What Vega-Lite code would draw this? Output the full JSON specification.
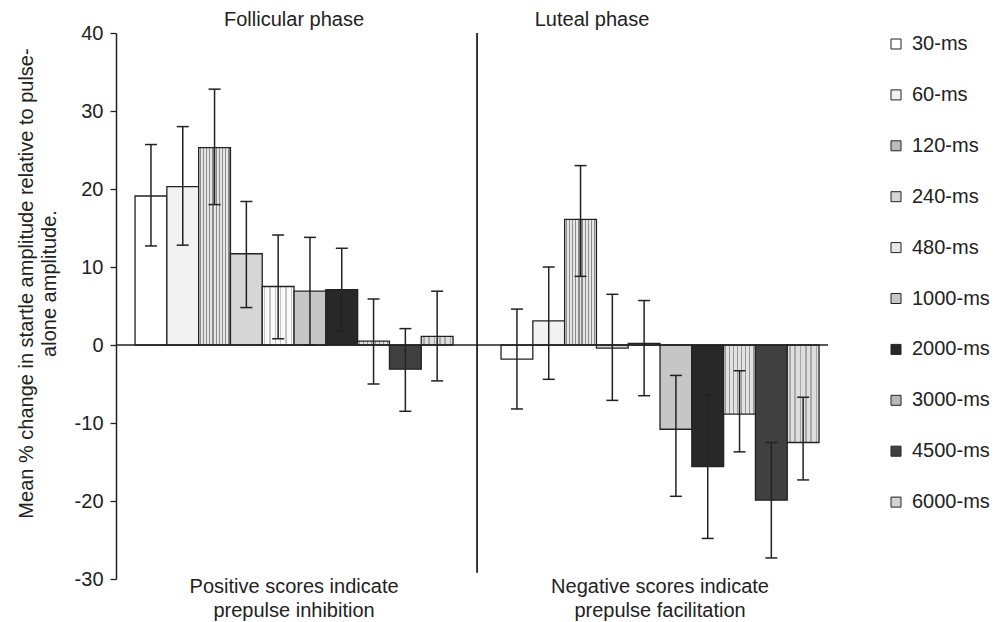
{
  "$schema": "https://vega.github.io/schema/vega-lite/v6.json",
  "autosize": "none",
  "padding": {"left": 116, "top": 33, "right": 167, "bottom": 43},
  "width": 712,
  "height": 546,
  "background": "white",
  "config": {
    "view": {"stroke": null},
    "font": "Liberation Sans",
    "text": {"font": "Liberation Sans", "fontSize": 20, "color": "#222"}
  },
  "data": {
    "values": [
      {"phase": "Follicular", "dur": "30-ms", "mean": 19.1, "lo": 12.7, "hi": 25.7},
      {"phase": "Follicular", "dur": "60-ms", "mean": 20.3, "lo": 12.8, "hi": 28.0},
      {"phase": "Follicular", "dur": "120-ms", "mean": 25.3, "lo": 18.0, "hi": 32.8},
      {"phase": "Follicular", "dur": "240-ms", "mean": 11.7, "lo": 4.8, "hi": 18.4},
      {"phase": "Follicular", "dur": "480-ms", "mean": 7.5, "lo": 0.8, "hi": 14.1},
      {"phase": "Follicular", "dur": "1000-ms", "mean": 6.9, "lo": 0.0, "hi": 13.8},
      {"phase": "Follicular", "dur": "2000-ms", "mean": 7.1, "lo": 1.8, "hi": 12.4},
      {"phase": "Follicular", "dur": "3000-ms", "mean": 0.5, "lo": -5.0, "hi": 5.9},
      {"phase": "Follicular", "dur": "4500-ms", "mean": -3.1, "lo": -8.5, "hi": 2.1},
      {"phase": "Follicular", "dur": "6000-ms", "mean": 1.1, "lo": -4.6, "hi": 6.9},
      {"phase": "Luteal", "dur": "30-ms", "mean": -1.8, "lo": -8.2, "hi": 4.6},
      {"phase": "Luteal", "dur": "60-ms", "mean": 3.1, "lo": -4.4, "hi": 10.0},
      {"phase": "Luteal", "dur": "120-ms", "mean": 16.1, "lo": 8.8, "hi": 23.0},
      {"phase": "Luteal", "dur": "240-ms", "mean": -0.4, "lo": -7.1, "hi": 6.5},
      {"phase": "Luteal", "dur": "480-ms", "mean": 0.2, "lo": -6.5, "hi": 5.7},
      {"phase": "Luteal", "dur": "1000-ms", "mean": -10.8, "lo": -19.4, "hi": -3.9},
      {"phase": "Luteal", "dur": "2000-ms", "mean": -15.6, "lo": -24.8, "hi": -6.4},
      {"phase": "Luteal", "dur": "3000-ms", "mean": -8.85, "lo": -13.7, "hi": -3.3},
      {"phase": "Luteal", "dur": "4500-ms", "mean": -19.9, "lo": -27.3, "hi": -12.5},
      {"phase": "Luteal", "dur": "6000-ms", "mean": -12.5, "lo": -17.3, "hi": -6.7}
    ]
  },
  "layer": [
    {
      "mark": {"type": "bar", "stroke": "#222", "strokeWidth": 1.3, "opacity": 1},
      "encoding": {
        "x": {"field": "phase", "type": "nominal", "axis": null,
              "scale": {"type": "band", "domain": ["Follicular", "Luteal"], "paddingInner": 0.1311, "paddingOuter": 0.0383, "align": 0.68}},
        "xOffset": {"field": "dur", "type": "nominal",
                    "scale": {"domain": ["30-ms", "60-ms", "120-ms", "240-ms", "480-ms", "1000-ms", "2000-ms", "3000-ms", "4500-ms", "6000-ms"], "paddingInner": 0, "paddingOuter": 0}},
        "y": {"field": "mean", "type": "quantitative",
              "scale": {"domain": [-30, 40], "nice": false, "zero": false},
              "axis": {
                "values": [-30, -20, -10, 0, 10, 20, 30, 40],
                "labelExpr": "toString(datum.value)",
                "grid": false,
                "domainColor": "#222", "domainWidth": 1.5,
                "tickColor": "#222", "tickWidth": 1.3, "tickSize": 6,
                "labelFont": "Liberation Sans", "labelFontSize": 20, "labelColor": "#222", "labelPadding": 7,
                "title": ["Mean % change in startle amplitude relative to pulse-", "alone amplitude."],
                "titleFont": "Liberation Sans", "titleFontSize": 20, "titleFontWeight": "normal", "titleColor": "#222",
                "titleX": -100, "titleY": 250, "titleAngle": -90, "titleAlign": "center", "titleBaseline": "top", "titleLineHeight": 23
              }},
        "fill": {
          "field": "dur", "type": "nominal",
          "scale": {
            "domain": ["30-ms", "60-ms", "120-ms", "240-ms", "480-ms", "1000-ms", "2000-ms", "3000-ms", "4500-ms", "6000-ms"],
            "range": ["#ffffff", "#f2f2f2", "#bbbbbb", "#d6d6d6", "#e8e8e8", "#c6c6c6", "#282828", "#b8b8b8", "#404040", "#d2d2d2"]
          },
          "legend": {
            "orient": "none", "legendX": 770, "legendY": 1, "title": null,
            "labelFont": "Liberation Sans", "labelFontSize": 20, "labelColor": "#222", "labelOffset": 6,
            "symbolType": "square", "symbolSize": 100, "symbolStrokeColor": "#222", "symbolStrokeWidth": 1,
            "rowPadding": 30.9
          },
          "condition": [
            {"test": "datum.dur === '120-ms'", "value": {"gradient": "linear", "x1": 0, "y1": 0, "x2": 1, "y2": 0, "stops": [
              {"offset": 0, "color": "#e6e6e6"}, {"offset": 0.03, "color": "#e6e6e6"}, {"offset": 0.03, "color": "#8c8c8c"}, {"offset": 0.07, "color": "#8c8c8c"},
              {"offset": 0.07, "color": "#e6e6e6"}, {"offset": 0.13, "color": "#e6e6e6"}, {"offset": 0.13, "color": "#8c8c8c"}, {"offset": 0.17, "color": "#8c8c8c"},
              {"offset": 0.17, "color": "#e6e6e6"}, {"offset": 0.23, "color": "#e6e6e6"}, {"offset": 0.23, "color": "#8c8c8c"}, {"offset": 0.27, "color": "#8c8c8c"},
              {"offset": 0.27, "color": "#e6e6e6"}, {"offset": 0.33, "color": "#e6e6e6"}, {"offset": 0.33, "color": "#8c8c8c"}, {"offset": 0.37, "color": "#8c8c8c"},
              {"offset": 0.37, "color": "#e6e6e6"}, {"offset": 0.43, "color": "#e6e6e6"}, {"offset": 0.43, "color": "#8c8c8c"}, {"offset": 0.47, "color": "#8c8c8c"},
              {"offset": 0.47, "color": "#e6e6e6"}, {"offset": 0.53, "color": "#e6e6e6"}, {"offset": 0.53, "color": "#8c8c8c"}, {"offset": 0.57, "color": "#8c8c8c"},
              {"offset": 0.57, "color": "#e6e6e6"}, {"offset": 0.63, "color": "#e6e6e6"}, {"offset": 0.63, "color": "#8c8c8c"}, {"offset": 0.67, "color": "#8c8c8c"},
              {"offset": 0.67, "color": "#e6e6e6"}, {"offset": 0.73, "color": "#e6e6e6"}, {"offset": 0.73, "color": "#8c8c8c"}, {"offset": 0.77, "color": "#8c8c8c"},
              {"offset": 0.77, "color": "#e6e6e6"}, {"offset": 0.83, "color": "#e6e6e6"}, {"offset": 0.83, "color": "#8c8c8c"}, {"offset": 0.87, "color": "#8c8c8c"},
              {"offset": 0.87, "color": "#e6e6e6"}, {"offset": 0.93, "color": "#e6e6e6"}, {"offset": 0.93, "color": "#8c8c8c"}, {"offset": 0.97, "color": "#8c8c8c"},
              {"offset": 0.97, "color": "#e6e6e6"}, {"offset": 1, "color": "#e6e6e6"}
            ]}},
            {"test": "datum.dur === '3000-ms'", "value": {"gradient": "linear", "x1": 0, "y1": 0, "x2": 1, "y2": 0, "stops": [
              {"offset": 0, "color": "#e2e2e2"}, {"offset": 0.04, "color": "#e2e2e2"}, {"offset": 0.04, "color": "#979797"}, {"offset": 0.085, "color": "#979797"},
              {"offset": 0.085, "color": "#e2e2e2"}, {"offset": 0.165, "color": "#e2e2e2"}, {"offset": 0.165, "color": "#979797"}, {"offset": 0.21, "color": "#979797"},
              {"offset": 0.21, "color": "#e2e2e2"}, {"offset": 0.29, "color": "#e2e2e2"}, {"offset": 0.29, "color": "#979797"}, {"offset": 0.335, "color": "#979797"},
              {"offset": 0.335, "color": "#e2e2e2"}, {"offset": 0.415, "color": "#e2e2e2"}, {"offset": 0.415, "color": "#979797"}, {"offset": 0.46, "color": "#979797"},
              {"offset": 0.46, "color": "#e2e2e2"}, {"offset": 0.54, "color": "#e2e2e2"}, {"offset": 0.54, "color": "#979797"}, {"offset": 0.585, "color": "#979797"},
              {"offset": 0.585, "color": "#e2e2e2"}, {"offset": 0.665, "color": "#e2e2e2"}, {"offset": 0.665, "color": "#979797"}, {"offset": 0.71, "color": "#979797"},
              {"offset": 0.71, "color": "#e2e2e2"}, {"offset": 0.79, "color": "#e2e2e2"}, {"offset": 0.79, "color": "#979797"}, {"offset": 0.835, "color": "#979797"},
              {"offset": 0.835, "color": "#e2e2e2"}, {"offset": 0.915, "color": "#e2e2e2"}, {"offset": 0.915, "color": "#979797"}, {"offset": 0.96, "color": "#979797"},
              {"offset": 0.96, "color": "#e2e2e2"}, {"offset": 1, "color": "#e2e2e2"}
            ]}},
            {"test": "datum.dur === '480-ms'", "value": {"gradient": "linear", "x1": 0, "y1": 0, "x2": 1, "y2": 0, "stops": [
              {"offset": 0, "color": "#fafafa"}, {"offset": 0.06, "color": "#fafafa"}, {"offset": 0.06, "color": "#c4c4c4"}, {"offset": 0.10, "color": "#c4c4c4"},
              {"offset": 0.10, "color": "#fafafa"}, {"offset": 0.227, "color": "#fafafa"}, {"offset": 0.227, "color": "#c4c4c4"}, {"offset": 0.267, "color": "#c4c4c4"},
              {"offset": 0.267, "color": "#fafafa"}, {"offset": 0.393, "color": "#fafafa"}, {"offset": 0.393, "color": "#c4c4c4"}, {"offset": 0.433, "color": "#c4c4c4"},
              {"offset": 0.433, "color": "#fafafa"}, {"offset": 0.56, "color": "#fafafa"}, {"offset": 0.56, "color": "#c4c4c4"}, {"offset": 0.60, "color": "#c4c4c4"},
              {"offset": 0.60, "color": "#fafafa"}, {"offset": 0.727, "color": "#fafafa"}, {"offset": 0.727, "color": "#c4c4c4"}, {"offset": 0.767, "color": "#c4c4c4"},
              {"offset": 0.767, "color": "#fafafa"}, {"offset": 0.893, "color": "#fafafa"}, {"offset": 0.893, "color": "#c4c4c4"}, {"offset": 0.933, "color": "#c4c4c4"},
              {"offset": 0.933, "color": "#fafafa"}, {"offset": 1, "color": "#fafafa"}
            ]}},
            {"test": "datum.dur === '6000-ms'", "value": {"gradient": "linear", "x1": 0, "y1": 0, "x2": 1, "y2": 0, "stops": [
              {"offset": 0, "color": "#dedede"}, {"offset": 0.06, "color": "#dedede"}, {"offset": 0.06, "color": "#a8a8a8"}, {"offset": 0.11, "color": "#a8a8a8"},
              {"offset": 0.11, "color": "#dedede"}, {"offset": 0.227, "color": "#dedede"}, {"offset": 0.227, "color": "#a8a8a8"}, {"offset": 0.277, "color": "#a8a8a8"},
              {"offset": 0.277, "color": "#dedede"}, {"offset": 0.393, "color": "#dedede"}, {"offset": 0.393, "color": "#a8a8a8"}, {"offset": 0.443, "color": "#a8a8a8"},
              {"offset": 0.443, "color": "#dedede"}, {"offset": 0.56, "color": "#dedede"}, {"offset": 0.56, "color": "#a8a8a8"}, {"offset": 0.61, "color": "#a8a8a8"},
              {"offset": 0.61, "color": "#dedede"}, {"offset": 0.727, "color": "#dedede"}, {"offset": 0.727, "color": "#a8a8a8"}, {"offset": 0.777, "color": "#a8a8a8"},
              {"offset": 0.777, "color": "#dedede"}, {"offset": 0.893, "color": "#dedede"}, {"offset": 0.893, "color": "#a8a8a8"}, {"offset": 0.943, "color": "#a8a8a8"},
              {"offset": 0.943, "color": "#dedede"}, {"offset": 1, "color": "#dedede"}
            ]}}
          ]
        }
      }
    },
    {
      "mark": {"type": "rule", "color": "#222", "strokeWidth": 1.5},
      "encoding": {
        "x": {"field": "phase", "type": "nominal"},
        "xOffset": {"field": "dur", "type": "nominal"},
        "y": {"field": "lo", "type": "quantitative"},
        "y2": {"field": "hi"}
      }
    },
    {
      "mark": {"type": "tick", "color": "#222", "size": 12, "thickness": 1.5, "opacity": 1},
      "encoding": {
        "x": {"field": "phase", "type": "nominal"},
        "xOffset": {"field": "dur", "type": "nominal"},
        "y": {"field": "lo", "type": "quantitative"}
      }
    },
    {
      "mark": {"type": "tick", "color": "#222", "size": 12, "thickness": 1.5, "opacity": 1},
      "encoding": {
        "x": {"field": "phase", "type": "nominal"},
        "xOffset": {"field": "dur", "type": "nominal"},
        "y": {"field": "hi", "type": "quantitative"}
      }
    },
    {
      "data": {"values": [{}]},
      "mark": {"type": "rule", "color": "#222", "strokeWidth": 1.5},
      "encoding": {
        "y": {"datum": 0, "type": "quantitative"}
      }
    },
    {
      "data": {"values": [{}]},
      "mark": {"type": "rule", "color": "#222", "strokeWidth": 1.8},
      "encoding": {
        "x": {"datum": "Follicular", "bandPosition": 1.0755},
        "y": {"datum": 40, "type": "quantitative"},
        "y2": {"datum": -29.2}
      }
    },
    {
      "data": {"values": [{}]},
      "mark": {"type": "text", "baseline": "alphabetic", "align": "center", "dy": -7},
      "encoding": {
        "x": {"datum": "Follicular", "bandPosition": 0.5},
        "y": {"datum": 40, "type": "quantitative"},
        "text": {"value": "Follicular phase"}
      }
    },
    {
      "data": {"values": [{}]},
      "mark": {"type": "text", "baseline": "alphabetic", "align": "center", "dy": -7},
      "encoding": {
        "x": {"datum": "Luteal", "bandPosition": 0.286},
        "y": {"datum": 40, "type": "quantitative"},
        "text": {"value": "Luteal phase"}
      }
    },
    {
      "data": {"values": [{}]},
      "mark": {"type": "text", "baseline": "alphabetic", "align": "center", "dy": 14, "lineHeight": 24},
      "encoding": {
        "x": {"datum": "Follicular", "bandPosition": 0.5},
        "y": {"datum": -30, "type": "quantitative"},
        "text": {"value": ["Positive scores indicate", "prepulse inhibition"]}
      }
    },
    {
      "data": {"values": [{}]},
      "mark": {"type": "text", "baseline": "alphabetic", "align": "center", "dy": 14, "lineHeight": 24},
      "encoding": {
        "x": {"datum": "Luteal", "bandPosition": 0.5},
        "y": {"datum": -30, "type": "quantitative"},
        "text": {"value": ["Negative scores indicate", "prepulse facilitation"]}
      }
    }
  ]
}
